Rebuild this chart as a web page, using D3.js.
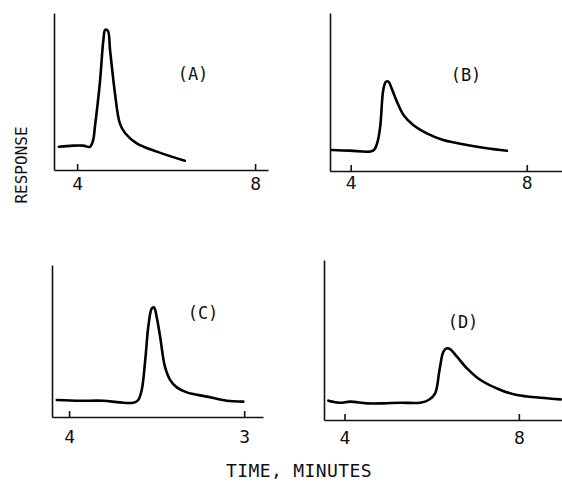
<!DOCTYPE html>
<html>
<head>
<meta charset="utf-8">
<script src="https://cdn.jsdelivr.net/npm/d3@7"></script>
<style>
  html, body { margin: 0; padding: 0; background: #fff; }
  svg { display: block; }
  text { font-family: "DejaVu Sans Mono", monospace; fill: #111; }
</style>
</head>
<body>
<svg id="chart" width="562" height="482"></svg>
<script>
// ---- Data (time in minutes, response in relative units 0-100) ----
const panelNames = ["(A)", "(B)", "(C)", "(D)"];
const tickValues = [4, 8];
const tickLabelsA = ["4", "8"];
const tickLabelsB = ["4", "8"];
const tickLabelsC = ["4", "3"];
const tickLabelsD = ["4", "8"];

const timeA = [3.59, 3.91, 4.14, 4.29, 4.36, 4.40, 4.51, 4.59, 4.63, 4.69, 4.74, 4.85, 4.96, 5.08, 5.34, 5.79, 6.42];
const respA = [14.8, 15.5, 15.5, 14.8, 19.1, 27.6, 55.2, 82.8, 89.2, 88.7, 76.4, 48.9, 29.7, 23.4, 17.0, 11.7, 5.9];

const timeB = [3.57, 3.98, 4.51, 4.60, 4.67, 4.74, 4.80, 4.86, 4.93, 5.05, 5.20, 5.42, 5.73, 6.10, 6.64, 7.09, 7.55];
const respB = [13.3, 12.9, 12.9, 17.5, 28.0, 51.3, 56.5, 56.5, 52.3, 43.9, 35.4, 29.1, 23.8, 19.6, 16.5, 14.4, 12.8];

const timeC = [3.72, 4.25, 4.78, 5.16, 5.47, 5.58, 5.66, 5.74, 5.81, 5.89, 5.94, 6.00, 6.08, 6.19, 6.31, 6.46, 6.69, 7.15, 7.60, 7.98];
const respC = [11.2, 10.7, 10.7, 9.6, 9.4, 11.2, 17.8, 37.5, 59.4, 71.5, 72.1, 66.0, 52.8, 33.1, 24.3, 19.5, 16.2, 13.4, 10.7, 10.1];

const timeD = [3.63, 3.90, 4.13, 4.51, 4.89, 5.28, 5.74, 5.93, 6.08, 6.18, 6.27, 6.35, 6.43, 6.58, 6.81, 7.12, 7.58, 7.96, 8.50, 8.96];
const respD = [12.1, 10.8, 11.5, 10.4, 10.4, 10.8, 10.8, 12.5, 16.7, 31.3, 42.7, 44.8, 44.2, 39.6, 32.3, 25.0, 18.8, 15.6, 13.9, 12.9];

// ---- Layout (pixels) ----
const panels = [
  { name: panelNames[0], t: timeA, r: respA, labels: tickLabelsA, xDom: [3.48, 8.29], xR: [54, 268], yTop: 13, yAxis: 170, pad: 7, lab: [193, 74] },
  { name: panelNames[1], t: timeB, r: respB, labels: tickLabelsB, xDom: [3.53, 8.80], xR: [330, 562], yTop: 13, yAxis: 171, pad: 5, lab: [466, 75] },
  { name: panelNames[2], t: timeC, r: respC, labels: tickLabelsC, xDom: [3.61, 8.43], xR: [52, 263], yTop: 265, yAxis: 417, pad: 13, lab: [203, 313] },
  { name: panelNames[3], t: timeD, r: respD, labels: tickLabelsD, xDom: [3.53, 8.99], xR: [324, 562], yTop: 260, yAxis: 420, pad: 11, lab: [463, 322] }
];

const svg = d3.select("#chart");

panels.forEach(p => {
  const x = d3.scaleLinear().domain(p.xDom).range(p.xR);
  const y = d3.scaleLinear().domain([0, 100]).range([p.yAxis, p.yTop]);

  const xa = svg.append("g")
    .attr("transform", `translate(0,${p.yAxis})`)
    .call(d3.axisBottom(x)
      .tickValues(tickValues)
      .tickFormat((d, i) => p.labels[i])
      .tickSizeInner(-6)
      .tickSizeOuter(0)
      .tickPadding(p.pad));
  xa.select(".domain").attr("stroke", "#111").attr("stroke-width", 1.6);
  xa.selectAll(".tick line").attr("stroke", "#111").attr("stroke-width", 1.6);
  xa.selectAll(".tick text")
    .style("font-family", "'DejaVu Sans Mono', monospace")
    .style("font-size", "18px")
    .attr("fill", "#111");

  const ya = svg.append("g")
    .attr("transform", `translate(${p.xR[0]},0)`)
    .call(d3.axisLeft(y).ticks(0).tickSizeOuter(0));
  ya.select(".domain").attr("stroke", "#111").attr("stroke-width", 1.6);

  const data = p.t.map((t, i) => [t, p.r[i]]);
  svg.append("path")
    .datum(data)
    .attr("fill", "none")
    .attr("stroke", "#000")
    .attr("stroke-width", 2.6)
    .attr("stroke-linejoin", "round")
    .attr("stroke-linecap", "round")
    .attr("d", d3.line().x(d => x(d[0])).y(d => y(d[1])).curve(d3.curveCatmullRom.alpha(0.5)));

  svg.append("text")
    .attr("x", p.lab[0]).attr("y", p.lab[1])
    .attr("text-anchor", "middle")
    .attr("dominant-baseline", "central")
    .style("font-size", "17px")
    .text(p.name);
});

svg.append("text")
  .attr("transform", "translate(21,165) rotate(-90)")
  .attr("text-anchor", "middle")
  .attr("dominant-baseline", "central")
  .style("font-size", "16px")
  .text("RESPONSE");

svg.append("text")
  .attr("x", 299).attr("y", 470)
  .attr("text-anchor", "middle")
  .attr("dominant-baseline", "central")
  .style("font-size", "18px")
  .style("letter-spacing", "0.4px")
  .text("TIME, MINUTES");
</script>
</body>
</html>
